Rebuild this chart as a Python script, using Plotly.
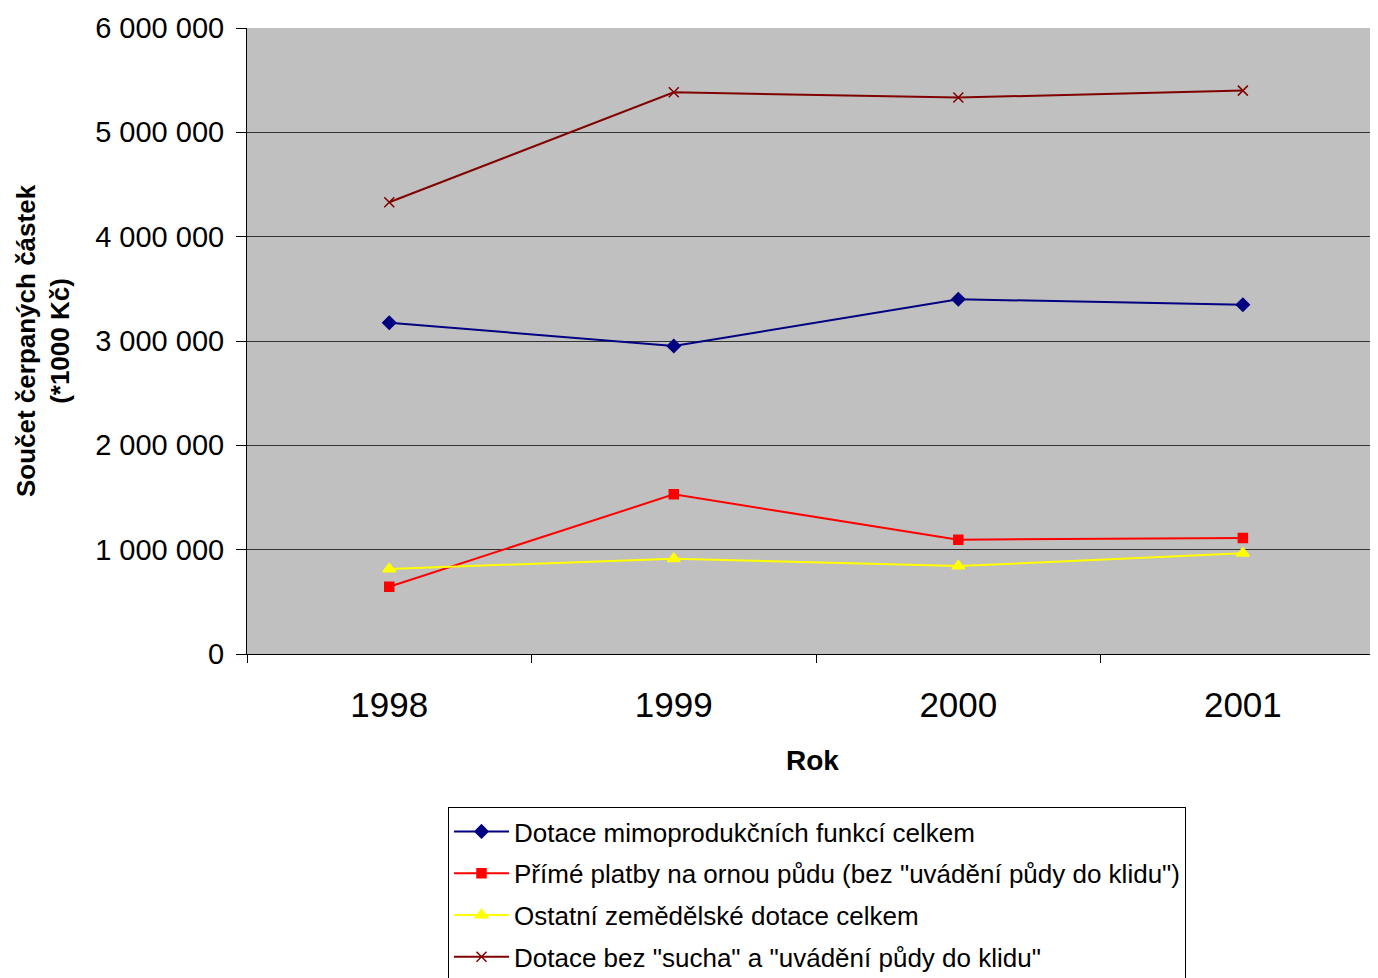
import plotly.graph_objects as go

years = ["1998", "1999", "2000", "2001"]
s_mimoprod = [3175000, 2952000, 3400000, 3348000]
s_prime = [645000, 1530000, 1096000, 1112000]
s_ostatni = [815000, 914000, 843000, 965000]
s_bez_sucha = [4330000, 5384000, 5333000, 5400000]

names = [
    "Dotace mimoprodukčních funkcí celkem",
    "Přímé platby na ornou půdu (bez \"uvádění půdy do klidu\")",
    "Ostatní zemědělské dotace celkem",
    "Dotace bez \"sucha\" a \"uvádění půdy do klidu\"",
]
y_ticks = [0, 1000000, 2000000, 3000000, 4000000, 5000000, 6000000]

fig = go.Figure()
specs = [
    (s_mimoprod, "#000080", "diamond", 10),
    (s_prime, "#FF0000", "square", 9),
    (s_ostatni, "#FFFF00", "triangle-up", 11),
    (s_bez_sucha, "#800000", "x-thin-open", 10),
]
for (vals, col, sym, sz), nm in zip(specs, names):
    fig.add_trace(go.Scatter(
        x=years, y=vals, name=nm, mode="lines+markers",
        line=dict(color=col, width=2),
        marker=dict(symbol=sym, size=sz, color=col, line=dict(color=col, width=1.5)),
        legendgroup=nm,
    ))

# page body has an 8px default margin; size the figure to fit the window
fig.update_layout(
    width=1370, height=970,
    margin=dict(l=239, r=0, t=20, b=324, autoexpand=False),
    paper_bgcolor="white", plot_bgcolor="#C0C0C0",
    separators=", ",
    font=dict(family="Liberation Sans, Arial, sans-serif", color="black"),
    legend=dict(
        x=(448 - 247) / 1131, y=-(807 - 654) / 626, xanchor="left", yanchor="top",
        bordercolor="black", borderwidth=1, bgcolor="white",
        font=dict(size=26, color="black"),
        itemwidth=55, tracegroupgap=5,
    ),
)
fig.update_xaxes(
    type="category", range=[-0.5, 3.475], automargin=False,
    showgrid=False, showline=True, linecolor="black", linewidth=1,
    ticks="outside", tickson="boundaries", ticklen=8, tickcolor="black",
    tickfont=dict(size=35), ticklabelstandoff=20,
    title=dict(text="<b>Rok</b>", font=dict(size=28), standoff=27),
)
fig.update_yaxes(
    range=[0, 6000000], tickvals=y_ticks, tickformat=",d", automargin=False,
    showgrid=True, gridcolor="#333333", gridwidth=1,
    showline=True, linecolor="black", linewidth=1,
    ticks="outside", ticklen=10, tickcolor="black",
    tickfont=dict(size=29), ticklabelstandoff=6, zeroline=False,
    title=dict(text="<b>Součet čerpaných částek<br>(*1000 Kč)</b>", font=dict(size=26), standoff=18),
)

fig.write_html("out.html")
